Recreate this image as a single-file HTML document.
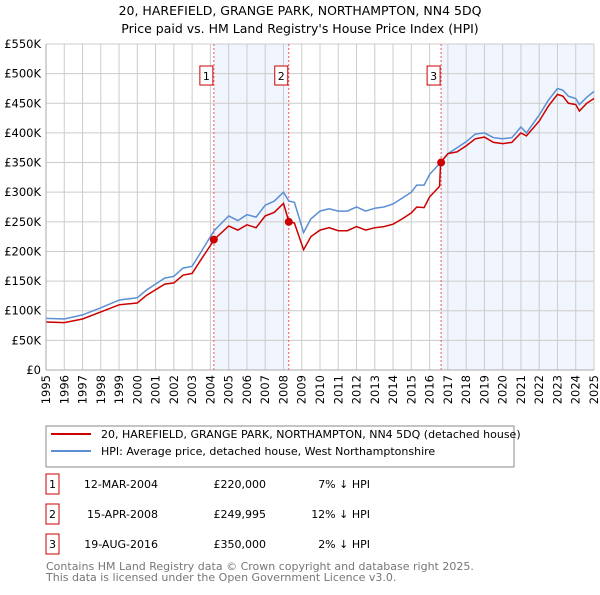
<!DOCTYPE html>
<html><head><meta charset="utf-8"><style>
body{margin:0;background:#fff;font-family:"Liberation Sans","DejaVu Sans",sans-serif;}
svg text{font-family:"DejaVu Sans","Liberation Sans",sans-serif;}
</style></head><body>
<svg id="c" width="600" height="590" xmlns="http://www.w3.org/2000/svg">
<text x="300" y="15" text-anchor="middle" font-size="12.5">20, HAREFIELD, GRANGE PARK, NORTHAMPTON, NN4 5DQ</text>
<text x="300" y="33" text-anchor="middle" font-size="12.5">Price paid vs. HM Land Registry's House Price Index (HPI)</text>
<g id="plot"></g>
<g>
<rect x="46" y="426" width="468" height="41" fill="#fff" stroke="#888"/>
<line x1="51" y1="434" x2="91" y2="434" stroke="#cc0000" stroke-width="2"/>
<text x="101" y="438" font-size="11">20, HAREFIELD, GRANGE PARK, NORTHAMPTON, NN4 5DQ (detached house)</text>
<line x1="51" y1="451" x2="91" y2="451" stroke="#5b8fd4" stroke-width="2"/>
<text x="101" y="455" font-size="11">HPI: Average price, detached house, West Northamptonshire</text>
</g>
<g id="tbl" font-size="11"></g>
<text x="46" y="570" font-size="11" fill="#777">Contains HM Land Registry data © Crown copyright and database right 2025.</text>
<text x="46" y="581" font-size="11" fill="#777">This data is licensed under the Open Government Licence v3.0.</text>
</svg>
<script>
const hpiYears=[1995,1996,1997,1998,1999,2000,2000.5,2001.5,2002,2002.5,2003,2003.5,2004,2004.2,2005,2005.5,2006,2006.5,2007,2007.5,2008,2008.3,2008.6,2009.1,2009.5,2010,2010.5,2011,2011.5,2012,2012.5,2013,2013.5,2014,2014.5,2015,2015.3,2015.7,2016,2016.6,2017,2017.5,2018,2018.5,2019,2019.5,2020,2020.5,2021,2021.3,2022,2022.5,2023,2023.3,2023.6,2024,2024.2,2024.6,2025];
const hpiValues=[87,86,93,105,118,122,135,155,158,172,175,200,225,235,260,252,262,258,278,285,300,285,283,232,255,268,272,268,268,275,268,273,275,280,290,300,312,312,330,350,365,375,385,398,400,392,390,392,410,400,430,455,475,472,462,458,448,460,470];
const priceYears=[1995,1996,1997,1998,1999,2000,2000.5,2001.5,2002,2002.5,2003,2003.5,2004,2004.2,2005,2005.5,2006,2006.5,2007,2007.5,2008,2008.3,2008.6,2009.1,2009.5,2010,2010.5,2011,2011.5,2012,2012.5,2013,2013.5,2014,2014.5,2015,2015.3,2015.7,2016,2016.55,2016.6,2017,2017.5,2018,2018.5,2019,2019.5,2020,2020.5,2021,2021.3,2022,2022.5,2023,2023.3,2023.6,2024,2024.2,2024.6,2025];
const priceValues=[81,80,86,98,110,113,126,145,147,160,163,187,210,220,243,236,245,240,260,266,281,250,248,203,225,236,240,235,235,242,236,240,242,246,255,265,275,274,292,310,350,365,368,378,390,393,384,382,384,400,395,420,445,465,462,450,448,437,450,458];
const saleYears=[2004.19,2008.29,2016.63];
const saleValues=[220,249.995,350];
const saleLabels=["1","2","3"];
const saleDates=["12-MAR-2004","15-APR-2008","19-AUG-2016"];
const salePrices=["£220,000","£249,995","£350,000"];
const saleHpi=["7% ↓ HPI","12% ↓ HPI","2% ↓ HPI"];
const yTicks=[0,50,100,150,200,250,300,350,400,450,500,550];
const yTickLabels=["£0","£50K","£100K","£150K","£200K","£250K","£300K","£350K","£400K","£450K","£500K","£550K"];
const xTicks=[1995,1996,1997,1998,1999,2000,2001,2002,2003,2004,2005,2006,2007,2008,2009,2010,2011,2012,2013,2014,2015,2016,2017,2018,2019,2020,2021,2022,2023,2024,2025];
const X0=46,X1=594,Y0=370,Y1=44;
const sx=v=>X0+(v-1995)/30*(X1-X0);
const sy=v=>Y0-v/550*(Y0-Y1);
const NS="http://www.w3.org/2000/svg";
const plot=document.getElementById('plot');
function mk(tag,attrs,parent){const e=document.createElementNS(NS,tag);for(const k in attrs)e.setAttribute(k,attrs[k]);(parent||plot).appendChild(e);return e;}
let r=mk('rect',{x:X0,y:Y1,width:X1-X0,height:Y0-Y1,fill:'#fff'});


r=mk('rect',{x:sx(saleYears[0]),y:Y1,width:sx(saleYears[1])-sx(saleYears[0]),height:Y0-Y1,fill:'#eef3fc',opacity:0.8});


r=mk('rect',{x:sx(saleYears[2]),y:Y1,width:X1-sx(saleYears[2]),height:Y0-Y1,fill:'#eef3fc',opacity:0.8});


yTicks.forEach((t,i)=>{
 let l=mk('line',{x1:X0,x2:X1,y1:sy(t),y2:sy(t),stroke:'#ccc'});
 
 
 let tx=mk('text',{x:X0-5,y:sy(t)+4,'text-anchor':'end','font-size':11.5});
 tx.textContent=yTickLabels[i];
 
 
});
xTicks.forEach(t=>{
 let l=mk('line',{x1:sx(t),x2:sx(t),y1:Y1,y2:Y0,stroke:'#ccc'});
 
 
 let tx=mk('text',{x:0,y:0,'text-anchor':'end','font-size':11.5,transform:`translate(${sx(t)+4},${Y0+5}) rotate(-90)`});
 tx.textContent=String(t);
 
 
});
saleYears.forEach((s,i)=>{
 let l=mk('line',{x1:sx(s),x2:sx(s),y1:Y1,y2:Y0,stroke:'#e55','stroke-dasharray':'2,2','stroke-width':1});
 
 
 let b=mk('rect',{x:sx(s)-14,y:66,width:13,height:19,fill:'#fff',stroke:'#cc0000'});
 
 
 let tx=mk('text',{x:sx(s)-7.5,y:80,'text-anchor':'middle','font-size':11});
 tx.textContent=saleLabels[i];
 
 
});
function pts(xs,ys){return xs.map((x,i)=>sx(x).toFixed(1)+','+sy(ys[i]).toFixed(1)).join(' ');}
let p=mk('polyline',{points:pts(hpiYears,hpiValues),fill:'none',stroke:'#5b8fd4','stroke-width':1.5});


p=mk('polyline',{points:pts(priceYears,priceValues),fill:'none',stroke:'#cc0000','stroke-width':1.5});


saleYears.forEach((s,i)=>{
 let c=mk('circle',{cx:sx(s),cy:sy(saleValues[i]),r:4,fill:'#cc0000'});
 
 
});
let ax=mk('line',{x1:X0,x2:X0,y1:Y1,y2:Y0,stroke:'#aaa'});


ax=mk('line',{x1:X0,x2:X1,y1:Y0,y2:Y0,stroke:'#aaa'});


const tbl=document.getElementById('tbl');
const rowY=[483,513,543];
saleLabels.forEach((lab,i)=>{
 const y=rowY[i];
 let b=mk('rect',{x:46,y:y-9,width:13,height:20,fill:'#fff',stroke:'#cc0000'},tbl);
 
 
 const cells=[[52.5,lab,'middle'],[158,saleDates[i],'end'],[266,salePrices[i],'end'],[370,saleHpi[i],'end']];
 cells.forEach(c=>{
  let t=mk('text',{x:c[0],y:y+5,'text-anchor':c[2]},tbl);
  t.textContent=c[1];
  
  
 });
});
</script>
</body></html>
